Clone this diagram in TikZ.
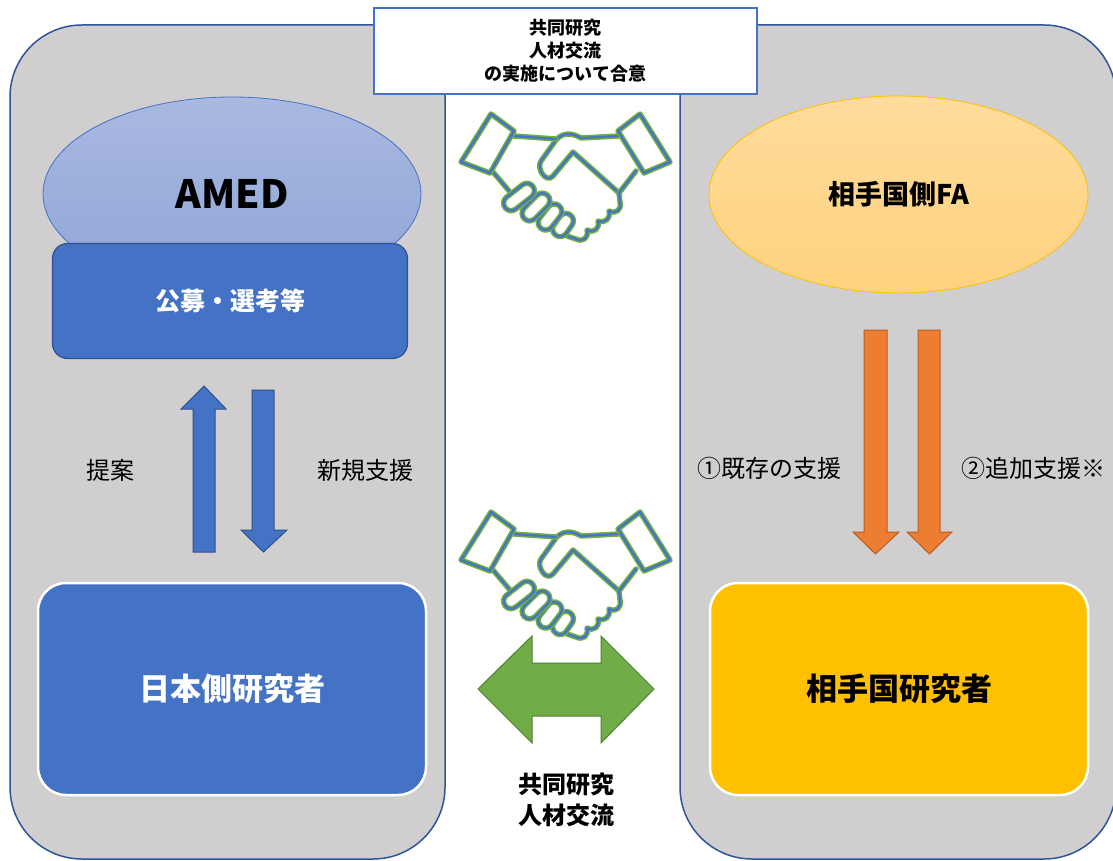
\documentclass[tikz,border=0pt]{standalone}
\usepackage{fontspec}
\setmainfont{Noto Sans CJK JP}
\usetikzlibrary{shapes.geometric}

\definecolor{panelgray}{HTML}{D0CECE}
\definecolor{panelline}{HTML}{2F5597}
\definecolor{accblue}{HTML}{4472C4}
\definecolor{darkblue}{HTML}{2F528F}
\definecolor{accgold}{HTML}{FFC000}
\definecolor{accorange}{HTML}{ED7D31}
\definecolor{darkorange}{HTML}{B65F23}
\definecolor{accgreen}{HTML}{70AD47}
\definecolor{darkgreen}{HTML}{507E32}
\definecolor{amedtop}{HTML}{A9B9E1}
\definecolor{amedbot}{HTML}{8EA5D6}
\definecolor{fatop}{HTML}{FFDC9C}
\definecolor{fabot}{HTML}{FFD27E}

\begin{document}
\begin{tikzpicture}[x=1pt,y=-1pt,
	panel/.style={fill=panelgray,draw=panelline,line width=1.5pt,rounded corners=72pt},
	bluebox/.style={fill=accblue,draw=darkblue,line width=1.2pt,rounded corners=15pt,text=white},
	researcher/.style={draw=white,line width=2.5pt,rounded corners=28pt,minimum height=212pt,font=\bfseries\fontsize{31}{36}\selectfont},
	lbl/.style={font=\fontsize{24}{29}\selectfont},
	bluearrow/.style={fill=accblue,draw=darkblue,line width=1pt},
	orangearrow/.style={fill=accorange,draw=darkorange,line width=1pt},
	hs/.style={draw=accgreen,double=accblue,line width=1.6pt,double distance=2.2pt,line join=round,line cap=round},
	finger/.style={hs,fill=white,rectangle,rounded corners=7.4pt,minimum height=15pt,inner sep=0pt}]
		\useasboundingbox (0,0) rectangle (1113,861);
		\clip (0,0) rectangle (1113,861);
		\fill[white] (0,0) rectangle (1113,861);
		
		\draw[panel] (10,25) rectangle (445,859);
		\draw[panel] (680,25) rectangle (1116,859);
		
		\node[draw=accblue, fill=white, line width=2pt, minimum width=383pt, minimum height=86pt, align=center, font=\bfseries\fontsize{18}{23}\selectfont] (agree) at (565.5,51) {共同研究\\人材交流\\の実施について合意};
		
		% japan side
		\node[ellipse, minimum width=378pt, minimum height=194pt, top color=amedtop, bottom color=amedbot, draw=accblue, line width=0.8pt, font=\bfseries\fontsize{39}{44}\selectfont] (amed) at (232,194) {AMED};
		\node[bluebox, minimum width=355pt, minimum height=115pt, font=\bfseries\fontsize{25}{30}\selectfont] (koubo) at (230,301) {公募・選考等};
		\node[researcher, fill=accblue, text=white, minimum width=388pt] (jpres) at (232,689) {日本側研究者};
		
		\draw[bluearrow] (204,386) -- (226,409) -- (215,409) -- (215,552) -- (193,552) -- (193,409) -- (181,409) -- cycle;
		\draw[bluearrow] (263.5,552) -- (287,530) -- (274,530) -- (274,390) -- (252,390) -- (252,530) -- (241,530) -- cycle;
		\node[lbl] (teian) at (110,470) {提案};
		\node[lbl] (shinki) at (365,470) {新規支援};
		
		% partner side
		\node[ellipse, minimum width=379pt, minimum height=197pt, top color=fatop, bottom color=fabot, draw=accgold, line width=0.8pt, font=\bfseries\fontsize{27}{32}\selectfont] (fa) at (898.5,194.5) {相手国側FA};
		\node[researcher, fill=accgold, minimum width=378pt] (partres) at (899,689) {相手国研究者};
		
		\draw[orangearrow] (875.5,554) -- (899,532) -- (887,532) -- (887,330) -- (864,330) -- (864,532) -- (853,532) -- cycle;
		\draw[orangearrow] (929.5,554) -- (952,532) -- (940,532) -- (940,330) -- (918,330) -- (918,532) -- (907,532) -- cycle;
		\node[lbl] (kizon) at (769,468) {①既存の支援};
		\node[lbl] (tsuika) at (1033,468) {②追加支援※};
		
		% exchange
		\draw[fill=accgreen, draw=darkgreen, line width=1pt] (478,689) -- (532,636) -- (532,663) -- (601,663) -- (601,636) -- (654,689) -- (601,743) -- (601,716) -- (532,716) -- (532,743) -- cycle;
		\node[font=\bfseries\fontsize{24}{31}\selectfont, align=center] (joint) at (566,800) {共同研究\\人材交流};
		
		% handshakes
		\foreach \hy in {105,503}{
		\begin{scope}[shift={(455,\hy)}]
			\draw[hs] (164,31) -- (126,33) .. controls (116,27) and (107,28) .. (101,35)
				-- (86,56) .. controls (81,63) and (91,79) .. (98,71) -- (118,47) -- (164,88);
			\draw[hs] (181,66) -- (164,88) -- (165,97)
				.. controls (166.8,104.7) and (161.3,109.4) .. (154,106)
				.. controls (155.8,113.7) and (150.3,118.4) .. (143,116)
				.. controls (144.8,123.7) and (139.3,128.4) .. (132,125)
				.. controls (133.8,132.7) and (128.3,137.4) .. (121,134) -- (112,131);
			\draw[hs] (59,31) -- (101,34);
			\draw[hs] (38,67) -- (55,87);
			\node[finger, minimum width=25pt, rotate=55] (f4) at (108,120) {};
			\node[finger, minimum width=29pt, rotate=52] (f3) at (95,112) {};
			\node[finger, minimum width=33pt, rotate=45] (f2) at (81,102) {};
			\node[finger, minimum width=35pt, rotate=38] (f1) at (64,92) {};
			\draw[hs, fill=white] (36,9) -- (59,26) -- (35,68) -- (6,57) -- cycle;
			\draw[hs, fill=white] (185,9) -- (215,57) -- (189,68) -- (163,26) -- cycle;
		\end{scope}}
	\end{tikzpicture}
\end{document}
